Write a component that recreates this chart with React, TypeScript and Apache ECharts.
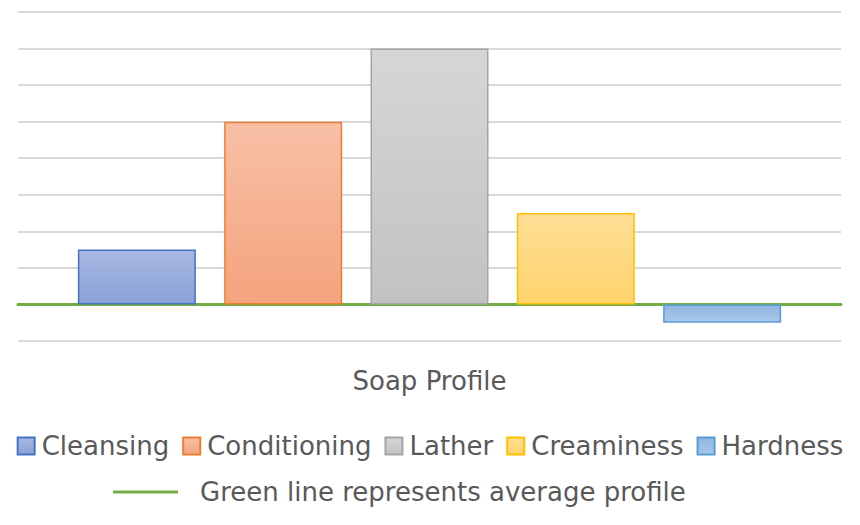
import React, { useEffect, useRef } from "react";
import * as echarts from "echarts";

const categories = ["Soap Profile"];
const seriesNames = ["Cleansing", "Conditioning", "Lather", "Creaminess", "Hardness"];
const seriesValues = [1.5, 5, 7, 2.5, -0.5];
const lineName = "Green line represents average profile";

const fills = [
  ["#a7b9e2", "#8aa1d7", "#4472c4"],
  ["#f8c0a6", "#f4a37d", "#ed7d31"],
  ["#d6d6d6", "#c2c2c2", "#a5a5a5"],
  ["#ffdf95", "#ffd36d", "#ffc000"],
  ["#8fb5e0", "#a9c8ea", "#5b9bd5"],
];

const FONT = "'DejaVu Sans', sans-serif";

export default function App() {
  const ref = useRef<HTMLDivElement>(null);
  useEffect(() => {
    document.body.style.margin = "0";
    const chart = echarts.init(ref.current!, null, { renderer: "svg" });
    const barSeries = seriesNames.map((name, i) => ({
      name,
      type: "bar",
      data: [seriesValues[i]],
      barWidth: 118,
      barGap: "24%",
      itemStyle: {
        color: new echarts.graphic.LinearGradient(0, 0, 0, 1, [
          { offset: 0, color: fills[i][0] },
          { offset: 1, color: fills[i][1] },
        ]),
        borderColor: fills[i][2],
        borderWidth: 1.5,
      },
    }));
    chart.setOption({
      animation: false,
      backgroundColor: "#ffffff",
      grid: { left: 18, right: 19, top: 12, bottom: 184 },
      xAxis: {
        type: "category",
        data: categories,
        axisLine: { show: true, onZero: true, lineStyle: { color: "#70ad47", width: 3 } },
        axisTick: { show: false },
        axisLabel: { margin: 27, fontSize: 26, color: "#595959", fontFamily: FONT },
      },
      yAxis: {
        type: "value",
        min: -1,
        max: 8,
        interval: 1,
        axisLabel: { show: false },
        axisLine: { show: false },
        axisTick: { show: false },
        splitLine: { lineStyle: { color: "#d9d9d9", width: 2 } },
      },
      legend: [
        {
          data: seriesNames,
          top: 433,
          left: "center",
          padding: 0,
          icon: "rect",
          itemWidth: 17,
          itemHeight: 17,
          itemGap: 13,
          textStyle: { fontSize: 26, color: "#595959", fontFamily: FONT, padding: [0, 0, 0, 2] },
        },
        {
          data: [lineName],
          top: 479,
          left: 113,
          padding: 0,
          icon: "rect",
          itemWidth: 65,
          itemHeight: 3,
          textStyle: { fontSize: 26, color: "#595959", fontFamily: FONT, padding: [0, 0, 0, 17] },
        },
      ],
      series: [
        ...barSeries,
        {
          name: lineName,
          type: "line",
          data: [],
          itemStyle: { color: "#70ad47" },
          lineStyle: { color: "#70ad47", width: 3 },
        },
      ],
    });
    return () => chart.dispose();
  }, []);
  return <div ref={ref} style={{ width: 860, height: 525 }} />;
}
